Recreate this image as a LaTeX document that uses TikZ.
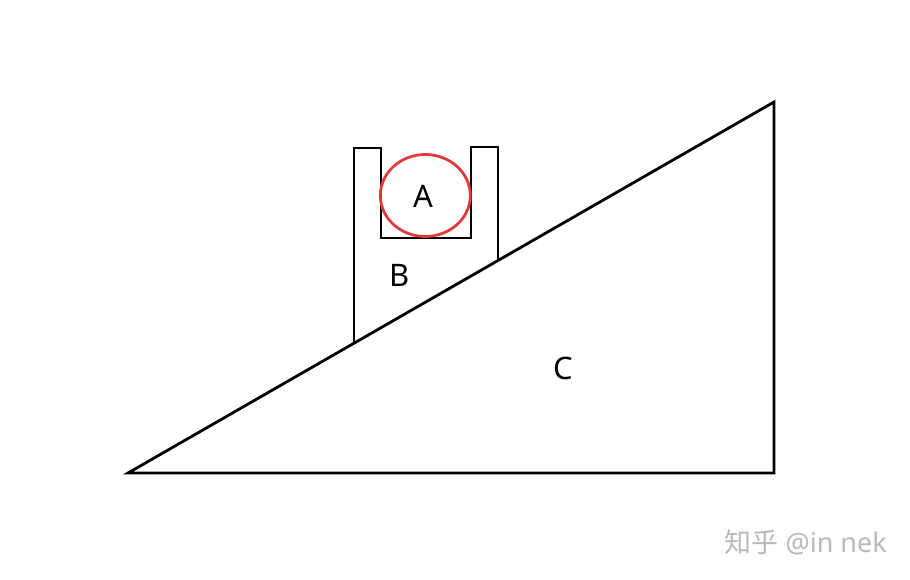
\documentclass[tikz,border=0pt]{standalone}
\usepackage{fontspec}
\usetikzlibrary{shapes.geometric}
\setmainfont{Noto Sans}
\newfontfamily\cjk{Noto Sans CJK SC}
\definecolor{ared}{RGB}{226,58,58}
\definecolor{wm}{RGB}{185,185,185}
\begin{document}
\begin{tikzpicture}[x=1pt,y=-1pt,
  body/.style={draw=black,line width=2.8pt,line join=miter},
  lbl/.style={font=\fontsize{31}{31}\selectfont,inner sep=0pt}]
\useasboundingbox (0,0) rectangle (910,579);
% triangle C
\coordinate (c1) at (128,473);
\coordinate (c2) at (774,473);
\coordinate (c3) at (774,102);
\draw[body] (c1) -- (c2) -- (c3) -- cycle;
% block B
\coordinate (b1) at (354,343.2);
\coordinate (b2) at (354,148);
\coordinate (b3) at (381,148);
\coordinate (b4) at (381,238);
\coordinate (b5) at (471,238);
\coordinate (b6) at (471,147);
\coordinate (b7) at (498,147);
\coordinate (b8) at (498,260.5);
\draw[body] (b1) -- (b2) -- (b3) -- (b4) -- (b5) -- (b6) -- (b7) -- (b8);
% ball A
\node[draw=ared,line width=2.8pt,ellipse,minimum width=90,minimum height=82,inner sep=0pt] (ball) at (425.3,195.5) {};
\node[lbl] (la) at (423,196) {A};
\node[lbl] (lb) at (400,275) {B};
\node[lbl] (lc) at (563,368) {C};
\node[anchor=east,inner sep=0pt,text=wm,font=\fontsize{27}{27}\selectfont] (wmk) at (887,542) {{\cjk 知乎} @in nek};
\end{tikzpicture}
\end{document}
